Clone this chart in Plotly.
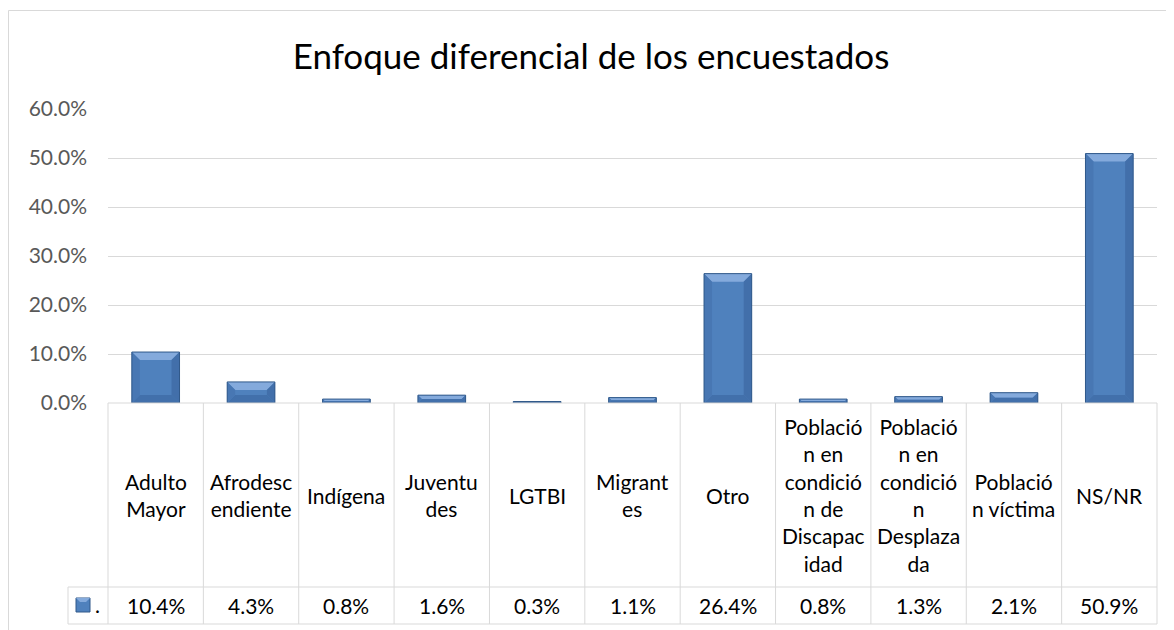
import plotly.graph_objects as go

# ---- data ----
categories = ["Adulto Mayor", "Afrodescendiente", "Indígena", "Juventudes", "LGTBI",
              "Migrantes", "Otro", "Población en condición de Discapacidad",
              "Población en condición Desplazada", "Población víctima", "NS/NR"]
labels = ["Adulto<br>Mayor", "Afrodesc<br>endiente", "Indígena", "Juventu<br>des", "LGTBI",
          "Migrant<br>es", "Otro",
          "Població<br>n en<br>condició<br>n de<br>Discapac<br>idad",
          "Població<br>n en<br>condició<br>n<br>Desplaza<br>da",
          "Població<br>n víctima", "NS/NR"]
values = [0.104, 0.043, 0.008, 0.016, 0.003, 0.011, 0.264, 0.008, 0.013, 0.021, 0.509]
y_ticks = [0, 0.1, 0.2, 0.3, 0.4, 0.5, 0.6]
title = "Enfoque diferencial de los encuestados"

OFF = 8  # page body margin
W, H = 1174 - OFF, 630 - OFF
# screen-space plot area: x 108..1157, y 109..403
L, T = 108 - OFF, 109 - OFF
R = W - (1157 - OFF)
B = H - (403 - OFF)
plot_w = W - L - R
plot_h = H - T - B
n = len(categories)
cat_px = plot_w / n
ymax = 0.6
px_per_unit = plot_h / ymax

FONT = "Lato"
GRID = "#D9D9D9"
x = list(range(n))
bw = 0.5

fig = go.Figure()
fig.add_trace(go.Bar(x=x, y=values, width=bw, marker=dict(color="#4F81BD", line=dict(width=0)),
                     hoverinfo="skip", showlegend=False))

shapes = []
annotations = []

# conversions from screen pixel coords
def py2paper(py):
    return (403 - py) / plot_h

def px2paperx(px):
    return (px - 108) / plot_w

def cat2paperx(c):
    return (c + 0.5) / n

# bevel faces
for i, v in enumerate(values):
    dy = min(8 / px_per_unit, v / 2)
    dx = dy * px_per_unit / cat_px
    x0, x1 = i - bw / 2, i + bw / 2
    faces = [
        ([(x0, v), (x1, v), (x1 - dx, v - dy), (x0 + dx, v - dy)], "#84AADC"),
        ([(x0, 0), (x1, 0), (x1 - dx, dy), (x0 + dx, dy)], "#4270AB"),
        ([(x0, 0), (x0 + dx, dy), (x0 + dx, v - dy), (x0, v)], "#4877B3"),
        ([(x1, 0), (x1 - dx, dy), (x1 - dx, v - dy), (x1, v)], "#426FAA"),
    ]
    for pts, col in faces:
        path = "M " + " L ".join(f"{a},{b}" for a, b in pts) + " Z"
        shapes.append(dict(type="path", path=path, xref="x", yref="y", fillcolor=col,
                           line=dict(width=0), layer="above"))
    shapes.append(dict(type="rect", xref="x", yref="y", x0=x0, x1=x1, y0=0, y1=v,
                       line=dict(color="#30598A", width=1), fillcolor="rgba(0,0,0,0)", layer="above"))

# table geometry (screen pixels)
row1_bot = 587
row2_bot = 624
key_left = 68
tcol = GRID

def hline(py, xa, xb):
    shapes.append(dict(type="line", xref="paper", yref="paper", x0=xa, x1=xb,
                       y0=py2paper(py), y1=py2paper(py), line=dict(color=tcol, width=1)))

def vline(xp, pya, pyb):
    shapes.append(dict(type="line", xref="paper", yref="paper", x0=xp, x1=xp,
                       y0=py2paper(pya), y1=py2paper(pyb), line=dict(color=tcol, width=1)))

hline(403, 0, 1)
hline(row1_bot, px2paperx(key_left), 1)
hline(row2_bot, px2paperx(key_left), 1)
for k in range(n + 1):
    vline(cat2paperx(k - 0.5), 403, row2_bot)
vline(px2paperx(key_left), row1_bot, row2_bot)

# category labels and values
for i in range(n):
    annotations.append(dict(x=i, y=py2paper((403 + row1_bot) / 2), xref="x", yref="paper",
                            text=labels[i], showarrow=False, align="center",
                            font=dict(family=FONT, size=21, color="#000000"),
                            xanchor="center", yanchor="middle"))
    annotations.append(dict(x=i, y=py2paper((row1_bot + row2_bot) / 2), xref="x", yref="paper",
                            text=f"{values[i]*100:.1f}%", showarrow=False,
                            font=dict(family=FONT, size=21, color="#000000"),
                            xanchor="center", yanchor="middle"))

# legend key
shapes.append(dict(type="rect", xref="paper", yref="paper", x0=px2paperx(76), x1=px2paperx(90),
                   y0=py2paper(598), y1=py2paper(612), fillcolor="#4F81BD",
                   line=dict(color="#30598A", width=1)))
shapes.append(dict(type="path", xref="paper", yref="paper",
                   path=(f"M {px2paperx(76)},{py2paper(598)} L {px2paperx(90)},{py2paper(598)} "
                         f"L {px2paperx(86)},{py2paper(602)} L {px2paperx(80)},{py2paper(602)} Z"),
                   fillcolor="#84AADC", line=dict(width=0)))
annotations.append(dict(x=px2paperx(97), y=py2paper(604), xref="paper", yref="paper", text=".",
                        showarrow=False, font=dict(family=FONT, size=21, color="#000000"),
                        xanchor="center", yanchor="middle"))

# outer chart border
shapes.append(dict(type="rect", xref="paper", yref="paper", x0=px2paperx(8.5), x1=px2paperx(1190),
                   y0=py2paper(650), y1=py2paper(10.5), line=dict(color=GRID, width=1),
                   fillcolor="rgba(0,0,0,0)", layer="below"))

fig.update_layout(
    width=W, height=H, autosize=False,
    margin=dict(l=L, r=R, t=T, b=B, pad=0),
    paper_bgcolor="white", plot_bgcolor="white",
    title=dict(text=title, x=(591 - OFF) / W, xref="container", y=1 - (57 - OFF) / H, yref="container",
               xanchor="center", yanchor="middle",
               font=dict(family=FONT, size=35, color="#000000")),
    xaxis=dict(range=[-0.5, n - 0.5], visible=False, fixedrange=True),
    yaxis=dict(range=[0, ymax], tickvals=y_ticks, tickformat=".1%", showgrid=True,
               gridcolor=GRID, gridwidth=1, zeroline=False, showline=False,
               tickfont=dict(family=FONT, size=21, color="#595959"), ticks="",
               ticklabelstandoff=20, fixedrange=True),
    shapes=shapes, annotations=annotations, bargap=0.5,
)

fig.write_html("out.html")
